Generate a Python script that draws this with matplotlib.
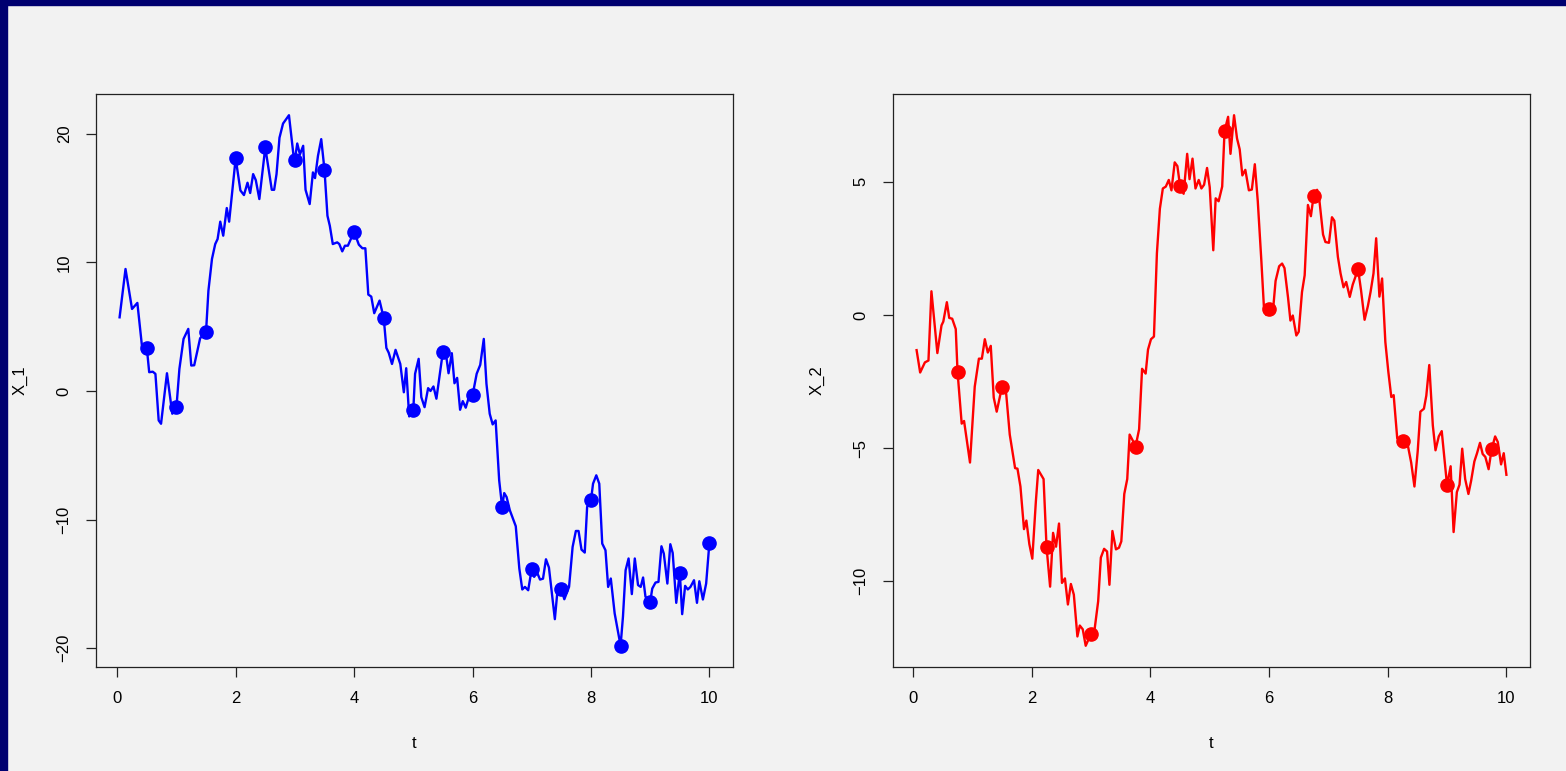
import numpy as np
import matplotlib
matplotlib.use('Agg')
import matplotlib.pyplot as plt
from matplotlib.patches import Rectangle

# series 1 (blue)
t1 = [0.04, 0.14, 0.25, 0.34, 0.42, 0.50, 0.54, 0.60, 0.645, 0.70, 0.74, 0.84, 0.93, 1.00,
      1.05, 1.12, 1.20, 1.25, 1.30, 1.40, 1.50, 1.54, 1.60, 1.655, 1.695, 1.74, 1.79, 1.85,
      1.89, 2.00, 2.08, 2.14, 2.20, 2.245, 2.295, 2.34, 2.40, 2.50, 2.61, 2.65, 2.69, 2.74,
      2.80, 2.90, 2.975, 3.00, 3.04, 3.085, 3.14, 3.18, 3.25, 3.305, 3.34, 3.39, 3.445, 3.50,
      3.55, 3.59, 3.64, 3.715, 3.75, 3.80, 3.845, 3.895, 4.00, 4.08, 4.14, 4.19, 4.24, 4.29,
      4.34, 4.43, 4.50, 4.545, 4.585, 4.64, 4.70, 4.78, 4.84, 4.88, 4.93, 5.00, 5.03, 5.09,
      5.135, 5.19, 5.25, 5.29, 5.34, 5.39, 5.50, 5.55, 5.595, 5.65, 5.695, 5.74, 5.79, 5.835,
      5.885, 5.93, 6.00, 6.07, 6.13, 6.19, 6.235, 6.29, 6.34, 6.39, 6.45, 6.50, 6.535, 6.575,
      6.63, 6.73, 6.79, 6.84, 6.885, 6.94, 7.00, 7.04, 7.09, 7.14, 7.19, 7.24, 7.29, 7.39,
      7.43, 7.50, 7.55, 7.63, 7.69, 7.745, 7.79, 7.84, 7.895, 7.935, 8.00, 8.035, 8.09, 8.14,
      8.19, 8.245, 8.29, 8.335, 8.40, 8.50, 8.54, 8.585, 8.635, 8.69, 8.74, 8.795, 8.84, 8.88,
      8.92, 9.00, 9.035, 9.09, 9.14, 9.19, 9.23, 9.29, 9.34, 9.38, 9.44, 9.50, 9.54, 9.59,
      9.635, 9.68, 9.74, 9.79, 9.83, 9.89, 9.945, 10.00]
x1 = [5.73, 9.49, 6.38, 6.85, 3.4, 3.33, 1.46, 1.50, 1.33, -2.29, -2.55, 1.38, -1.77, -1.26,
      1.72, 4.05, 4.83, 1.98, 2.00, 4.10, 4.62, 7.8, 10.27, 11.43, 11.82, 13.17, 12.08, 14.23,
      13.17, 18.10, 15.6, 15.24, 16.2, 15.4, 16.87, 16.4, 14.93, 18.94, 15.65, 15.65, 16.87, 19.7,
      20.8, 21.45, 18.4, 18.0, 19.25, 18.4, 19.07, 15.65, 14.54, 17.0, 16.56, 18.29, 19.59, 17.2,
      13.63, 12.85, 11.43, 11.56, 11.43, 10.86, 11.3, 11.3, 12.39, 11.38, 11.1, 11.1, 7.5, 7.34,
      6.05, 7.03, 5.68, 3.35, 2.97, 2.1, 3.2, 2.1, -0.1, 1.77, -1.98, -1.46, 1.34, 2.5,
      -0.48, -1.26, 0.22, 0.0, 0.35, -0.6, 3.07, 2.9, 1.38, 2.94, 0.6, 1.02, -1.46, -0.79,
      -1.3, -0.6, -0.35, 1.34, 2.03, 4.05, 0.56, -1.77, -2.6, -2.29, -6.95, -9.02, -7.94, -8.25,
      -9.28, -10.52, -13.81, -15.44, -15.24, -15.5, -13.81, -14.46, -14.12, -14.67, -14.6, -13.09, -13.73, -17.75,
      -15.75, -15.42, -16.2, -15.24, -12.13, -10.89, -10.89, -12.34, -12.57, -9.02, -8.5, -7.21, -6.56, -7.21,
      -11.87, -12.39, -15.24, -14.59, -17.3, -19.82, -17.57, -13.94, -13.03, -15.8, -13.03, -15.1, -15.24, -14.51,
      -16.0, -16.4, -15.37, -14.9, -14.85, -12.08, -12.65, -14.98, -11.92, -12.6, -16.48, -14.12, -17.36, -15.16,
      -15.44, -15.24, -14.72, -16.48, -14.8, -16.22, -14.98, -11.8]

# series 2 (red)
t2 = [0.06, 0.12, 0.20, 0.26, 0.31, 0.41, 0.48, 0.51, 0.57, 0.61, 0.66, 0.72, 0.75, 0.82,
      0.86, 0.96, 1.04, 1.11, 1.16, 1.21, 1.26, 1.31, 1.36, 1.41, 1.50, 1.57, 1.63, 1.72,
      1.76, 1.81, 1.87, 1.91, 1.96, 2.01, 2.07, 2.11, 2.20, 2.25, 2.31, 2.36, 2.41, 2.46,
      2.51, 2.56, 2.61, 2.66, 2.71, 2.77, 2.81, 2.86, 2.91, 3.00, 3.06, 3.12, 3.165, 3.22,
      3.27, 3.31, 3.36, 3.42, 3.47, 3.51, 3.56, 3.61, 3.65, 3.70, 3.75, 3.81, 3.86, 3.92,
      3.96, 4.01, 4.06, 4.11, 4.16, 4.21, 4.26, 4.31, 4.355, 4.41, 4.455, 4.50, 4.56, 4.62,
      4.66, 4.71, 4.76, 4.815, 4.86, 4.905, 4.955, 5.00, 5.06, 5.10, 5.15, 5.21, 5.25, 5.31,
      5.35, 5.41, 5.46, 5.505, 5.55, 5.60, 5.66, 5.71, 5.76, 5.81, 5.87, 5.915, 5.955, 6.00,
      6.07, 6.11, 6.17, 6.22, 6.26, 6.32, 6.36, 6.40, 6.46, 6.50, 6.555, 6.60, 6.655, 6.705,
      6.75, 6.81, 6.85, 6.91, 6.95, 7.01, 7.06, 7.10, 7.16, 7.205, 7.255, 7.30, 7.36, 7.41,
      7.50, 7.55, 7.61, 7.665, 7.71, 7.76, 7.805, 7.86, 7.905, 7.96, 8.01, 8.06, 8.10, 8.16,
      8.25, 8.34, 8.395, 8.45, 8.505, 8.55, 8.61, 8.65, 8.70, 8.76, 8.805, 8.86, 8.91, 8.965,
      9.00, 9.06, 9.11, 9.165, 9.21, 9.255, 9.305, 9.36, 9.405, 9.46, 9.505, 9.555, 9.60, 9.645,
      9.70, 9.75, 9.81, 9.855, 9.91, 9.955, 10.00]
x2 = [-1.32, -2.16, -1.78, -1.71, 0.89, -1.43, -0.39, -0.25, 0.48, -0.11, -0.14, -0.53, -2.13, -4.08,
      -3.98, -5.54, -2.69, -1.64, -1.64, -0.91, -1.41, -1.16, -3.1, -3.63, -2.69, -2.96, -4.49, -5.75,
      -5.77, -6.44, -8.04, -7.72, -8.6, -9.15, -7.0, -5.82, -6.16, -8.71, -10.2, -8.18, -8.7, -7.83,
      -10.06, -9.89, -10.87, -10.1, -10.5, -12.07, -11.66, -11.8, -12.42, -11.96, -11.8, -10.75, -9.11, -8.78,
      -8.88, -10.13, -8.11, -8.8, -8.74, -8.5, -6.72, -6.16, -4.49, -4.7, -4.94, -4.29, -2.02, -2.2,
      -1.3, -0.91, -0.81, 2.32, 3.99, 4.75, 4.82, 5.07, 4.68, 5.73, 5.59, 4.85, 4.55, 6.05,
      5.1, 5.87, 4.75, 5.07, 4.75, 4.89, 5.52, 4.8, 2.43, 4.38, 4.27, 4.82, 6.91, 7.44,
      6.05, 7.5, 6.63, 6.22, 5.24, 5.45, 4.68, 4.71, 5.66, 4.27, 2.04, 0.23, 0.0, 0.21,
      0.26, 1.28, 1.83, 1.93, 1.76, 0.65, -0.21, -0.02, -0.77, -0.63, 0.86, 1.49, 4.13, 3.71,
      4.46, 4.70, 4.27, 3.02, 2.74, 2.71, 3.67, 3.54, 2.18, 1.56, 1.04, 1.24, 0.68, 1.14,
      1.72, 0.93, -0.18, 0.33, 0.86, 1.56, 2.88, 0.69, 1.37, -1.02, -2.13, -3.08, -3.01, -4.63,
      -4.75, -4.91, -5.54, -6.44, -5.12, -3.63, -3.52, -3.03, -1.88, -4.15, -5.08, -4.56, -4.36, -5.61,
      -6.40, -5.68, -8.15, -6.65, -6.37, -5.02, -6.16, -6.72, -6.23, -5.5, -5.19, -4.8, -5.22, -5.33,
      -5.79, -5.05, -4.56, -4.77, -5.61, -5.19, -6.0]

# observation times marked with dots
obs1 = np.arange(1, 21) * 0.5
obs2 = np.arange(1, 14) * 0.75

x_ticks = [0, 2, 4, 6, 8, 10]
y_ticks1 = [-20, -10, 0, 10, 20]
y_ticks2 = [-10, -5, 0, 5]

bg = '#F2F2F2'
plt.rcParams['font.family'] = ['Liberation Sans', 'DejaVu Sans']

fig = plt.figure(figsize=(15.66, 7.71), dpi=100, facecolor=bg)
# dark frame on the left and top edge
fig.patches.append(Rectangle((0, 0), 7 / 1566, 1, transform=fig.transFigure, color='#000070', zorder=5))
fig.patches.append(Rectangle((0, 1 - 5 / 771), 1, 5 / 771, transform=fig.transFigure, color='#000070', zorder=5))


def r_lim(v):
    lo, hi = min(v), max(v)
    pad = 0.04 * (hi - lo)
    return lo - pad, hi + pad


def panel(rect, t, x, obs, color, yticks, ylab):
    ax = fig.add_axes(rect, facecolor=bg)
    t = np.array(t)
    x = np.array(x)
    ax.plot(t, x, color=color, lw=1.7)
    sel = np.isclose(t[:, None], obs[None, :], atol=1e-6).any(axis=1)
    ax.plot(t[sel], x[sel], 'o', color=color, ms=9.5, mec=color)
    ax.set_xlim(r_lim(t))
    ax.set_ylim(r_lim(x))
    ax.set_xticks(x_ticks)
    ax.set_yticks(yticks)
    ax.tick_params(direction='out', length=7.5, width=0.9, labelsize=12, pad=10, color='#222222')
    for lab in ax.get_yticklabels():
        lab.set_rotation(90)
        lab.set_va('center')
    for s in ax.spines.values():
        s.set_linewidth(0.9)
        s.set_color('#222222')
    ax.set_xlabel('t', fontsize=12)
    ax.xaxis.set_label_coords(0.5, -0.134)
    ax.xaxis.label.set_va('center')
    ax.set_ylabel(ylab, fontsize=12)
    ax.yaxis.set_label_coords(-0.12, 0.5)
    ax.yaxis.label.set_va('center')
    return ax


panel([96 / 1566, 104 / 771, 637 / 1566, 573 / 771], t1, x1, obs1, '#0000FF', y_ticks1, 'X_1')
panel([893 / 1566, 104 / 771, 637 / 1566, 573 / 771], t2, x2, obs2, '#FF0000', y_ticks2, 'X_2')

fig.savefig('out.png', dpi=100, facecolor=bg)
